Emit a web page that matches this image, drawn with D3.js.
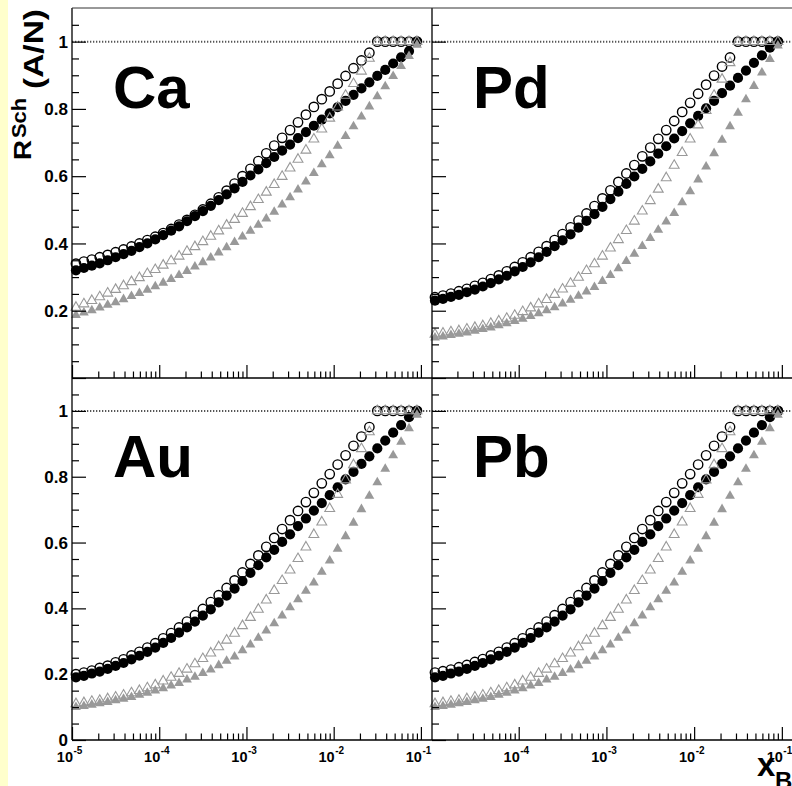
<!DOCTYPE html>
<html>
<head>
<meta charset="utf-8">
<script src="https://cdn.jsdelivr.net/npm/d3@7"></script>
<style>
  body { margin: 0; background: #fff; }
  svg text { font-family: "Liberation Sans", Arial, Helvetica, sans-serif; font-weight: bold; fill: #000; }
</style>
</head>
<body>
<svg width="792" height="786"></svg>
<script>
"use strict";

// 44 log bins between 1e-5 and 1e-1, points sit at the bin centres
const nBins = 44;
const xBinLo = 1e-5, xBinHi = 1e-1;
const xBins = d3.range(nBins).map(k => xBinLo * Math.pow(xBinHi / xBinLo, (k + 0.5) / nBins));

const panelNames = ["Ca", "Pd", "Au", "Pb"];
const yTickValues = [0, 0.2, 0.4, 0.6, 0.8, 1];
const yTickLabels = ["0", "0.2", "0.4", "0.6", "0.8", "1"];
const xLabelExps = [-5, -4, -3, -2, -1];

// open circles, full circles, open triangles, full triangles
const caOC = [.34,.346,.352,.359,.366,.374,.382,.391,.40,.41,.42,.431,.443,.456,.47,.485,.501,.518,.537,.557,.578,.60,.622,.645,.668,.691,.714,.737,.76,.783,.806,.829,.852,.875,.898,.921,.944,.967,1,1,1,1,1,1];
const caFC = [.32,.327,.334,.341,.35,.359,.368,.378,.389,.40,.412,.425,.438,.451,.466,.481,.496,.512,.529,.546,.564,.583,.602,.62,.639,.657,.676,.694,.713,.731,.75,.768,.787,.805,.824,.842,.861,.879,.898,.916,.935,.953,.972,1];
const caOT = [.21,.22,.23,.241,.252,.263,.274,.286,.298,.31,.322,.335,.348,.362,.376,.39,.405,.421,.437,.454,.471,.489,.509,.53,.552,.575,.599,.624,.65,.677,.71,.74,.772,.805,.84,.875,.912,.95,1,1,1,1,1,1];
const caFT = [.187,.194,.201,.209,.217,.225,.234,.243,.252,.262,.272,.283,.294,.306,.318,.331,.344,.358,.373,.388,.404,.42,.437,.455,.474,.494,.515,.537,.56,.584,.609,.635,.662,.69,.719,.748,.777,.807,.837,.867,.897,.927,.957,.99];

const pdOC = [.24,.245,.251,.258,.265,.274,.283,.294,.305,.317,.33,.344,.359,.375,.392,.41,.428,.448,.468,.489,.511,.534,.558,.583,.608,.633,.659,.685,.711,.737,.764,.791,.818,.845,.872,.899,.926,.953,1,1,1,1,1,1];
const pdFC = [.23,.235,.241,.247,.255,.263,.272,.282,.293,.304,.317,.33,.344,.359,.375,.392,.409,.427,.447,.467,.487,.509,.532,.554,.577,.599,.622,.644,.667,.689,.712,.734,.757,.779,.802,.824,.847,.869,.892,.914,.937,.959,.982,1];
const pdOT = [.13,.133,.137,.14,.145,.15,.155,.162,.169,.177,.186,.197,.208,.22,.233,.248,.264,.281,.299,.319,.339,.362,.386,.411,.438,.466,.496,.527,.561,.595,.632,.67,.71,.752,.795,.84,.888,.937,1,1,1,1,1,1];
const pdFT = [.12,.123,.127,.131,.135,.14,.145,.15,.156,.162,.169,.176,.184,.192,.201,.21,.221,.232,.244,.257,.27,.288,.306,.326,.347,.369,.392,.416,.44,.465,.49,.522,.555,.59,.628,.668,.708,.748,.788,.828,.868,.908,.948,.988];

const auOC = [.20,.205,.211,.219,.226,.236,.245,.257,.268,.281,.294,.309,.325,.342,.36,.379,.398,.419,.44,.462,.485,.509,.535,.561,.587,.614,.641,.668,.696,.723,.751,.78,.808,.837,.865,.894,.922,.951,1,1,1,1,1,1];
const auFC = [.19,.195,.202,.208,.216,.225,.234,.245,.256,.268,.281,.295,.31,.326,.342,.36,.378,.397,.418,.439,.46,.483,.508,.531,.555,.578,.602,.625,.65,.673,.697,.72,.744,.768,.792,.815,.839,.862,.886,.91,.934,.957,.981,1];
const auOT = [.11,.113,.117,.12,.125,.13,.136,.143,.15,.158,.167,.179,.19,.202,.215,.231,.247,.264,.283,.303,.324,.347,.372,.397,.425,.454,.484,.516,.551,.586,.624,.662,.703,.746,.79,.836,.885,.936,1,1,1,1,1,1];
const auFT = [.10,.103,.107,.111,.115,.12,.125,.13,.137,.143,.15,.157,.165,.173,.183,.192,.203,.214,.227,.24,.253,.272,.29,.31,.332,.354,.378,.403,.427,.453,.478,.511,.545,.581,.619,.66,.701,.742,.783,.824,.865,.906,.947,.988];

const pbOC = [.205,.209,.214,.221,.228,.237,.246,.257,.268,.281,.294,.309,.325,.342,.36,.379,.398,.419,.44,.462,.485,.509,.535,.561,.587,.614,.641,.668,.696,.723,.751,.78,.808,.837,.865,.894,.922,.951,1,1,1,1,1,1];
const pbFC = [.19,.195,.202,.208,.216,.225,.234,.245,.256,.268,.281,.295,.31,.326,.342,.36,.378,.397,.418,.439,.46,.483,.508,.531,.555,.578,.602,.625,.65,.673,.697,.72,.744,.768,.792,.815,.839,.862,.886,.91,.934,.957,.981,1];
const pbOT = [.11,.113,.117,.12,.125,.13,.136,.143,.15,.158,.167,.179,.19,.202,.215,.231,.247,.264,.283,.303,.324,.347,.372,.397,.425,.454,.484,.516,.551,.586,.624,.662,.703,.746,.79,.836,.885,.936,1,1,1,1,1,1];
const pbFT = [.10,.103,.107,.111,.115,.12,.125,.13,.137,.143,.15,.157,.165,.173,.183,.192,.203,.214,.227,.24,.253,.272,.29,.31,.332,.354,.378,.403,.427,.453,.478,.511,.545,.581,.619,.66,.701,.742,.783,.824,.865,.906,.947,.988];

const panelSeries = [
    [caOC, caFC, caOT, caFT],
    [pdOC, pdFC, pdOT, pdFT],
    [auOC, auFC, auOT, auFT],
    [pbOC, pbFC, pbOT, pbFT]
];

const seriesStyle = [
    {shape: "circle", fill: "none", stroke: "#000"},
    {shape: "circle", fill: "#000", stroke: "none"},
    {shape: "triangle", fill: "none", stroke: "#999"},
    {shape: "triangle", fill: "#999", stroke: "none"}
];

const svg = d3.select("svg");

// yellow strip on the far left
svg.append("rect").attr("x", 0).attr("y", 0).attr("width", 8).attr("height", 786).attr("fill", "#ffffcc");

const cols = [{axisX: 72, range: [72, 432]}, {axisX: 432, range: [431, 793]}];
const rows = [{range: [378, 8]}, {range: [740, 378]}];
const xDomain = [1e-5, 0.134];

const xMinor = [];
[-5, -4, -3, -2].forEach(e => d3.range(2, 10).forEach(m => xMinor.push(m * Math.pow(10, e))));
const yMinor = d3.range(1, 22).map(i => i * 0.05).filter(v => Math.abs(v * 5 - Math.round(v * 5)) > 1e-6);

const triangle = d3.symbol().type(d3.symbolTriangle).size(42);

panelNames.forEach((name, p) => {
    const col = cols[p % 2], row = rows[Math.floor(p / 2)];
    const x = d3.scaleLog().domain(xDomain).range(col.range);
    const y = d3.scaleLinear().domain([0, 1.1]).range(row.range);
    const g = svg.append("g");
    const right = col.range[0] === 72 ? 432 : 792;

    // dotted line at R = 1
    g.append("line")
        .attr("x1", col.axisX).attr("x2", right)
        .attr("y1", y(1)).attr("y2", y(1))
        .attr("stroke", "#555").attr("stroke-width", 2).attr("stroke-dasharray", "1.3,1.7");

    panelSeries[p].forEach((vals, s) => {
        const st = seriesStyle[s];
        const pts = vals.map((v, i) => ({x: xBins[i], v: v}));
        if (st.shape === "circle") {
            g.append("g").selectAll("circle").data(pts).join("circle")
                .attr("cx", d => x(d.x)).attr("cy", d => y(d.v))
                .attr("r", st.fill === "none" ? 4.7 : 5.1)
                .attr("fill", st.fill).attr("stroke", st.stroke).attr("stroke-width", 1.4);
        } else {
            g.append("g").selectAll("path").data(pts).join("path")
                .attr("transform", d => `translate(${x(d.x)},${y(d.v)})`)
                .attr("d", triangle)
                .attr("fill", st.fill).attr("stroke", st.stroke).attr("stroke-width", 1.1);
        }
    });

    // x ticks (pointing up from the bottom of the panel)
    const xMajor = [1e-5, 1e-4, 1e-3, 1e-2, 1e-1].filter(v => x(v) >= col.axisX - 0.5);
    const xMin = xMinor.filter(v => x(v) >= col.axisX);
    g.append("g").attr("transform", `translate(0,${row.range[0]})`)
        .call(d3.axisTop(x).tickValues(xMajor).tickSize(13).tickFormat(""));
    g.append("g").attr("transform", `translate(0,${row.range[0]})`)
        .call(d3.axisTop(x).tickValues(xMin).tickSize(6.5).tickFormat(""));

    // y ticks (pointing right from the left edge)
    g.append("g").attr("transform", `translate(${col.axisX},0)`)
        .call(d3.axisRight(y).tickValues(yTickValues).tickSize(14).tickFormat(""));
    g.append("g").attr("transform", `translate(${col.axisX},0)`)
        .call(d3.axisRight(y).tickValues(yMinor).tickSize(7).tickFormat(""));

    g.selectAll(".domain").remove();
    g.selectAll(".tick line").attr("stroke", "#000").attr("stroke-width", 1.2);

    // y labels on the left column only
    if (p % 2 === 0) {
        yTickValues.forEach((v, i) => {
            if (row.range[0] === 378 && v === 0) return;
            g.append("text")
                .attr("x", 68).attr("y", y(v)).attr("dy", "0.36em")
                .attr("text-anchor", "end").attr("font-size", 17)
                .text(yTickLabels[i]);
        });
    }

    // x labels on the bottom row only
    if (row.range[0] === 740) {
        xLabelExps.forEach(e => {
            const v = Math.pow(10, e);
            if (x(v) < col.axisX - 0.5) return;
            const tx = x(v) + 1;
            g.append("text").attr("x", tx).attr("y", 762)
                .attr("text-anchor", "end").attr("font-size", 14.5).text("10");
            g.append("text").attr("x", tx + 0.5).attr("y", 754)
                .attr("font-size", 10).text(String(e));
        });
    }

    g.append("text")
        .attr("x", col.axisX + 41).attr("y", row.range[0] === 378 ? 108 : 477)
        .attr("font-size", 60)
        .text(name);
});

// frame
const frame = svg.append("g").attr("stroke", "#000").attr("stroke-width", 1.3);
frame.append("line").attr("x1", 72).attr("x2", 72).attr("y1", 8).attr("y2", 740);
frame.append("line").attr("x1", 432).attr("x2", 432).attr("y1", 8).attr("y2", 740);
frame.append("line").attr("x1", 72).attr("x2", 792).attr("y1", 378).attr("y2", 378);
frame.append("line").attr("x1", 72).attr("x2", 792).attr("y1", 740).attr("y2", 740);
frame.append("line").attr("x1", 72).attr("x2", 792).attr("y1", 8).attr("y2", 8)
    .attr("stroke", "#333").attr("stroke-width", 1);

// axis titles
const yTitle = svg.append("g").attr("transform", "translate(31,160) rotate(-90)");
yTitle.append("text").attr("x", 0).attr("y", 0).attr("font-size", 24)
    .attr("textLength", 20).attr("lengthAdjust", "spacingAndGlyphs").text("R");
yTitle.append("text").attr("x", 22).attr("y", -5).attr("font-size", 20)
    .attr("textLength", 40).attr("lengthAdjust", "spacingAndGlyphs").text("Sch");
yTitle.append("text").attr("x", 71).attr("y", 12).attr("font-size", 28)
    .attr("textLength", 80).attr("lengthAdjust", "spacingAndGlyphs").text("(A/N)");

svg.append("text").attr("x", 757).attr("y", 776).attr("font-size", 33).text("x");
svg.append("text").attr("x", 775).attr("y", 789).attr("font-size", 24).text("B");
</script>
</body>
</html>
